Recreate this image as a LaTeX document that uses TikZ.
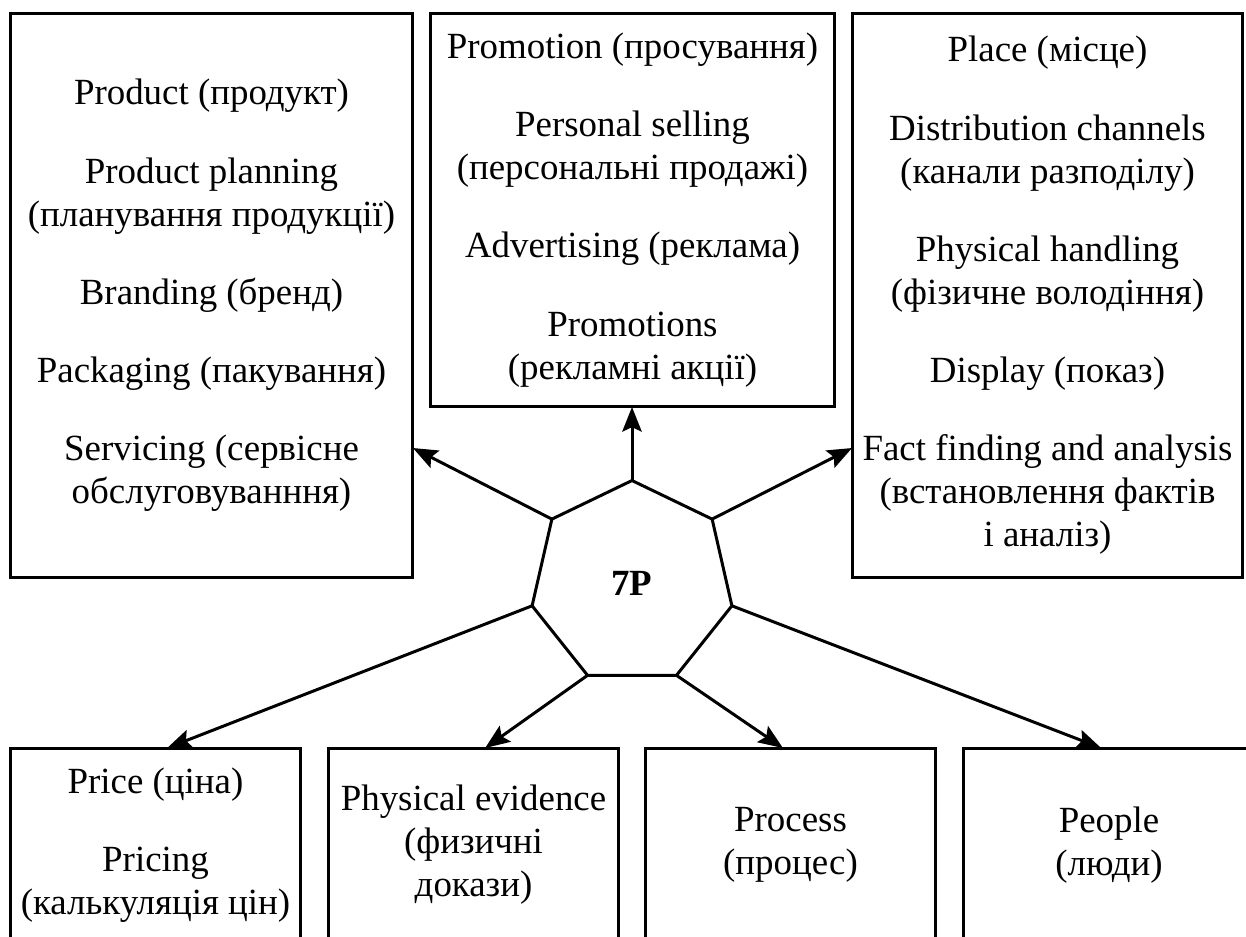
\documentclass[tikz,border=0pt]{standalone}
\usepackage{fontspec}
\setmainfont{Liberation Serif}
\usetikzlibrary{shapes.geometric,arrows.meta,calc}

\begin{document}
\begin{tikzpicture}[x=0.02cm,y=-0.02cm,line width=1.7pt,
    box/.style={draw,inner sep=0pt,outer sep=0pt,align=center,
        font=\fontsize{21pt}{24.5pt}\selectfont},
    smallbox/.style={box,minimum width=5.82cm,minimum height=3.88cm},
    hepta/.style={draw,regular polygon,regular polygon sides=7,
        minimum size=4.1cm,inner sep=0pt,outer sep=0pt,
        font=\fontsize{21pt}{24.5pt}\selectfont\bfseries},
    tip/.style={-{Stealth[length=14pt,width=11pt,inset=2.5pt]}}]
    \useasboundingbox (0,0) rectangle (1246,936);
    \clip (0,0) rectangle (1246,936);
    \node[box,minimum width=8.06cm,minimum height=11.3cm] (prod) at (211.5,295.5)
    {Product (продукт)\\[20pt]
    Product planning\\(планування продукції)\\[20pt]
    Branding (бренд)\\[20pt]
    Packaging (пакування)\\[20pt]
    Servicing (сервісне\\обслуговуванння)};
    \node[box,minimum width=8.1cm,minimum height=7.88cm] (promo) at (632.5,210)
    {Promotion (просування)\\[20pt]
    Personal selling\\(персональні продажі)\\[20pt]
    Advertising (реклама)\\[20pt]
    Promotions\\(рекламні акції)};
    \node[box,minimum width=7.82cm,minimum height=11.3cm] (place) at (1047.5,295.5)
    {Place (місце)\\[20pt]
    Distribution channels\\(канали разподілу)\\[20pt]
    Physical handling\\(фізичне володіння)\\[20pt]
    Display (показ)\\[20pt]
    Fact finding and analysis\\(встановлення фактів\\і аналіз)};
    \node[smallbox] (price) at (155.5,845)
    {Price (ціна)\\[20pt]Pricing\\(калькуляція цін)};
    \node[smallbox] (evid) at (473.5,845)
    {Physical evidence\\(физичні\\докази)};
    \node[smallbox] (proc) at (790.5,845) {Process\\(процес)};
    \node[smallbox] (people) at (1109,845) {People\\(люди)};
    \node[hepta] (mix) at (632,583) {7P};
    \coordinate (promoin) at (mix.corner 1 |- promo.south);
    \coordinate (prodin) at ($(prod.north east)!0.77!(prod.south east)$);
    \coordinate (placein) at ($(place.north west)!0.77!(place.south west)$);
    \coordinate (pricein) at ($(price.north west)!0.54!(price.north east)$);
    \coordinate (evidin) at ($(evid.north west)!0.54!(evid.north east)$);
    \coordinate (procin) at ($(proc.north west)!0.474!(proc.north east)$);
    \coordinate (peoplein) at ($(people.north west)!0.473!(people.north east)$);
    \foreach \c/\t in {1/promoin, 2/prodin, 7/placein, 3/pricein,
        4/evidin, 5/procin, 6/peoplein}
    \draw[tip] (mix.corner \c) -- (\t);
\end{tikzpicture}
\end{document}
